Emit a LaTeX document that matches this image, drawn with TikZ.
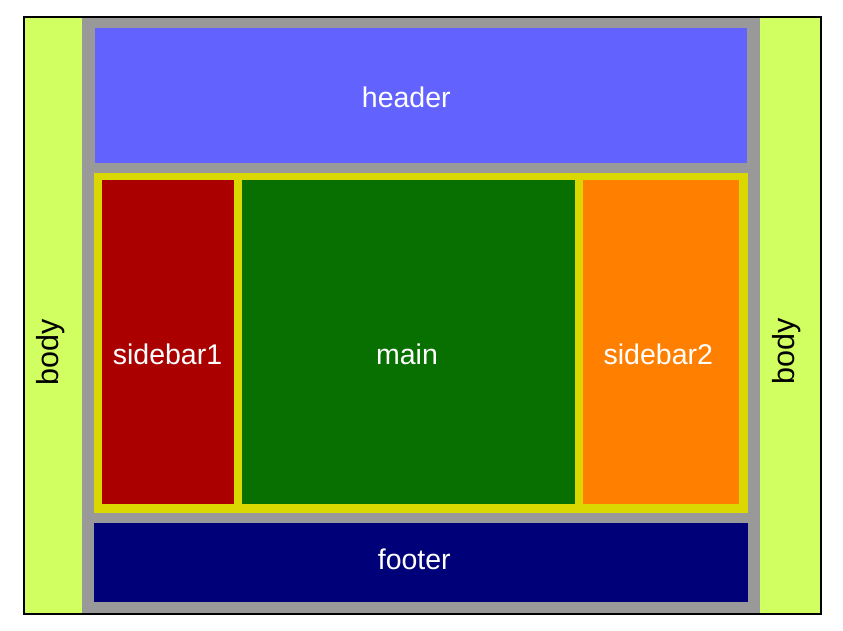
\documentclass[tikz,border=0pt]{standalone}
\usepackage{fontspec}
\setmainfont{Liberation Sans}
\usetikzlibrary{positioning}
\definecolor{bodylime}{RGB}{209,255,97}
\definecolor{pagegray}{RGB}{153,153,153}
\definecolor{headblue}{RGB}{98,99,255}
\definecolor{wrapyellow}{RGB}{218,216,0}
\definecolor{sidered}{RGB}{170,0,0}
\definecolor{maingreen}{RGB}{8,112,0}
\definecolor{sideorange}{RGB}{255,128,0}
\definecolor{footnavy}{RGB}{0,0,120}

\begin{document}
\begin{tikzpicture}[
    x=1pt, y=-1pt,
    box/.style={rectangle, inner sep=0pt, outer sep=0pt},
    col/.style={box, minimum width=#1, minimum height=323.5pt},
    lbl/.style={font=\fontsize{28.5}{34}\selectfont, text=white, inner sep=0pt, anchor=base},
    side/.style={font=\fontsize{30.5}{36}\selectfont, text=black, inner sep=0pt, anchor=center, rotate=90}
]
\useasboundingbox (0,0) rectangle (843,630);
\node[box, fill=bodylime, draw=black, line width=2pt, minimum width=797.6pt, minimum height=597.6pt] (body) at (422.5,315.5) {};
\node[box, fill=pagegray, minimum width=678pt, minimum height=595.6pt] (page) at (421,315.5) {};
\node[box, fill=headblue, minimum width=652.3pt, minimum height=135pt] (header) at (420.85,95.5) {};
\node[box, fill=wrapyellow, minimum width=653.5pt, minimum height=340pt, below=10pt of header.south] (wrap) {};
\node[box, fill=footnavy, minimum width=653.3pt, minimum height=79pt, below=10pt of wrap.south] (footer) {};
\node[col=131.5pt, fill=sidered] (sidebar1) at (167.75,341.75) {};
\node[col=332.7pt, fill=maingreen, right=8.5pt of sidebar1] (main) {};
\node[col=156pt, fill=sideorange, right=8.3pt of main] (sidebar2) {};

\node[lbl] (headerlbl) at (406.3,107.5) {header};
\node[lbl] (sidebar1lbl) at (167.5,364) {sidebar1};
\node[lbl] (mainlbl) at (407,364) {main};
\node[lbl] (sidebar2lbl) at (658.3,364) {sidebar2};
\node[lbl] (footerlbl) at (414.3,569) {footer};
\node[side] (bodyleft) at (50.5,352) {body};
\node[side] (bodyright) at (787,351) {body};
\end{tikzpicture}
\end{document}
